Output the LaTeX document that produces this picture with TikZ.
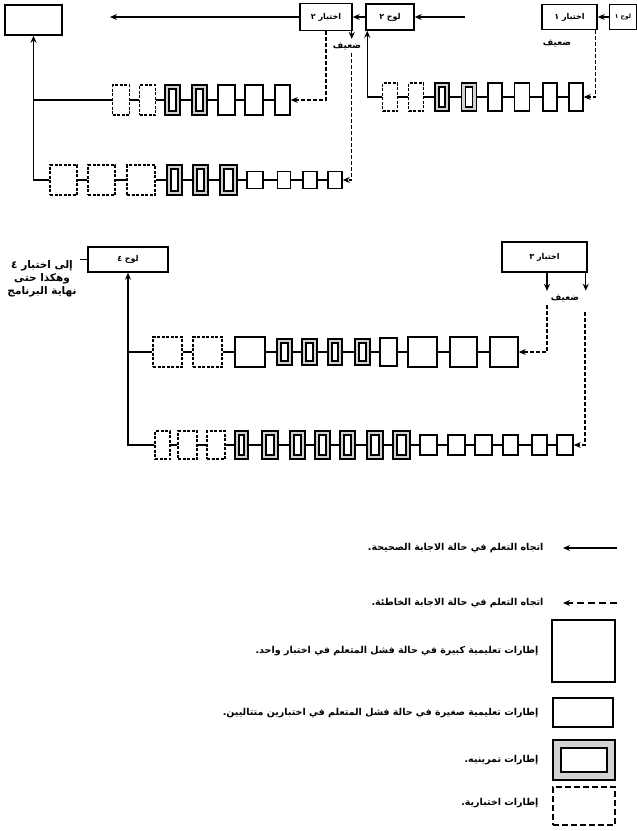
\documentclass[tikz,border=0pt]{standalone}
\usepackage{fontspec}
\newfontfamily\arabicfont[Script=Arabic]{DejaVu Sans}
\TeXXeTstate=1
\usetikzlibrary{arrows.meta}
\newcommand\artxt[1]{{\arabicfont\beginR #1\endR}}

\begin{document}
\begin{tikzpicture}[x=1pt,y=-1pt,>={Stealth[length=7pt,width=6pt]},
  frame/.style={draw,line width=1.5pt,inner sep=0pt},
  bigbox/.style={frame},
  smallbox/.style={frame},
  testbox/.style={frame,dash pattern=on 3pt off 1.5pt},
  drillbox/.style={frame,fill=gray!35,path picture={
      \draw[line width=1.1pt,fill=white]
        ([shift={(#1,#1)}]path picture bounding box.south west) rectangle
        ([shift={(-#1,-#1)}]path picture bounding box.north east);}},
  drillbox/.default=4pt,
  tag/.style={frame,font=\arabicfont\bfseries\fontsize{8}{10}\selectfont},
  word/.style={font=\arabicfont\bfseries\fontsize{9}{11}\selectfont},
  note/.style={font=\arabicfont\bfseries\fontsize{9.5}{12}\selectfont},
  link/.style={line width=1.3pt},
  pass/.style={link,->},
  fail/.style={link,->,dash pattern=on 4pt off 2pt}]
\useasboundingbox (0,0) rectangle (637,831);

% first part
\node[bigbox,minimum width=57pt,minimum height=30pt] (goal) at (33.5,20) {};
\node[tag,minimum width=27pt,minimum height=25pt,font=\arabicfont\bfseries\fontsize{6}{7}\selectfont] (lawh1) at (623,17) {\artxt{لوح ١}};
\node[tag,minimum width=55pt,minimum height=25pt] (ikh1) at (569.5,17) {\artxt{اختبار ١}};
\node[word] (weak1) at (557,43) {\artxt{ضعيف}};
\node[tag,minimum width=48pt,minimum height=26pt] (lawh2) at (390,17) {\artxt{لوح ٢}};
\node[tag,minimum width=52pt,minimum height=27pt] (ikh2) at (326,17) {\artxt{اختبار ٢}};
\node[word] (weak2) at (347,46) {\artxt{ضعيف}};
\coordinate (in2) at (465,17);
\coordinate (out2) at (110,17);
\coordinate (d2) at ([xshift=-1pt]ikh2.south east);

\foreach \x/\w/\s [count=\i] in {390/15/testbox,416/15/testbox,442/14/drillbox,469/15/drillbox,
    495/14/bigbox,522/15/bigbox,550/14/bigbox,576/14/bigbox}
  \node[\s,minimum width=\w pt,minimum height=28pt] (r1-\i) at (\x,97) {};
\foreach \i [remember=\i as \j (initially 1)] in {2,...,8} \draw[link] (r1-\j) -- (r1-\i);

\foreach \x/\w/\s [count=\i] in {121/17/testbox,147.5/16/testbox,172.5/15/drillbox,199.5/15/drillbox,
    226.5/17/bigbox,254/18/bigbox,282.5/15/bigbox}
  \node[\s,minimum width=\w pt,minimum height=30pt] (r2-\i) at (\x,100) {};
\foreach \i [remember=\i as \j (initially 1)] in {2,...,7} \draw[link] (r2-\j) -- (r2-\i);

\foreach \x/\w/\h/\s [count=\i] in {63.5/27/30/testbox,101.5/27/30/testbox,141/28/30/testbox,
    174.5/15/30/drillbox,200.5/15/30/drillbox,228.5/17/30/drillbox,
    255/16/17/smallbox,284/13/17/smallbox,310/14/17/smallbox,335/14/17/smallbox}
  \node[\s,minimum width=\w pt,minimum height=\h pt] (r3-\i) at (\x,180) {};
\foreach \i [remember=\i as \j (initially 1)] in {2,...,10} \draw[link] (r3-\j) -- (r3-\i);

\draw[pass] (lawh1) -- (ikh1);
\draw[fail] ([xshift=-2pt]ikh1.south east) |- (r1-8);
\draw[pass] (r1-1) -| ([xshift=2pt]lawh2.south west);
\draw[pass] (in2) -- (lawh2);
\draw[pass] (lawh2) -- (ikh2);
\draw[pass] (ikh2) -- (out2);
\draw[fail] (ikh2.south) |- (r2-7);
\draw[pass] (d2) -- (d2 |- weak2.north);
\draw[fail] (d2 |- weak2.south) |- (r3-10);
\draw[link] (r2-1) -- (r2-1 -| goal.south);
\draw[pass] (r3-1) -| (goal);

% second part
\node[tag,minimum width=80pt,minimum height=25pt] (lawh4) at (128,259.5) {\artxt{لوح ٤}};
\node[note,font=\arabicfont\bfseries\fontsize{10.5}{13}\selectfont,align=center] (next) at (42,279)
  {\artxt{إلى اختبار ٤}\\\artxt{وهكذا حتى}\\\artxt{نهاية البرنامج}};
\node[tag,minimum width=85pt,minimum height=30pt] (ikh3) at (544.5,257) {\artxt{اختبار ٣}};
\node[word] (weak3) at (565,298) {\artxt{ضعيف}};
\coordinate (d3) at ([xshift=2.5pt]ikh3.south);
\coordinate (d5) at (585,312);

\foreach \x/\w/\h/\s [count=\i] in {167.5/29/30/testbox,207.5/29/30/testbox,250/30/30/bigbox,
    284.5/15/26/drillbox,309.5/15/26/drillbox,335/14/26/drillbox,362.5/15/26/drillbox,
    388.5/17/28/bigbox,422.5/29/30/bigbox,463.5/27/30/bigbox,504/28/30/bigbox}
  \node[\s,minimum width=\w pt,minimum height=\h pt] (r4-\i) at (\x,352) {};
\foreach \i [remember=\i as \j (initially 1)] in {2,...,11} \draw[link] (r4-\j) -- (r4-\i);

\foreach \x/\w/\h/\s [count=\i] in {162.5/15/28/testbox,187.5/19/28/testbox,216/18/28/testbox,
    241.5/13/28/drillbox,270/16/28/drillbox,297.5/15/28/drillbox,322.5/15/28/drillbox,
    347.5/15/28/drillbox,375/16/28/drillbox,401.5/17/28/drillbox,
    428.5/17/20/smallbox,456.5/17/20/smallbox,483.5/17/20/smallbox,510.5/15/20/smallbox,
    539.5/15/20/smallbox,565/16/20/smallbox}
  \node[\s,minimum width=\w pt,minimum height=\h pt] (r5-\i) at (\x,445) {};
\foreach \i [remember=\i as \j (initially 1)] in {2,...,16} \draw[link] (r5-\j) -- (r5-\i);

\draw[link] (lawh4.west) -- (lawh4.west -| next.east);
\draw[pass] (d3) -- (d3 |- weak3.north);
\draw[fail] (d3 |- weak3.south) |- (r4-11);
\draw[pass] ([xshift=-2pt]ikh3.south east) -- ++(0,18);
\draw[fail] (d5) |- (r5-16);
\draw[link] (r4-1) -- (r4-1 -| lawh4.south);
\draw[pass] (r5-1) -| (lawh4);

% key
\coordinate (k1a) at (617,548); \coordinate (k1b) at (563,548);
\coordinate (k2a) at (617,603); \coordinate (k2b) at (563,603);
\draw[pass] (k1a) -- (k1b);
\draw[fail,dash pattern=on 7pt off 4pt] (k2a) -- (k2b);
\node[bigbox,minimum width=63pt,minimum height=62pt] (k3) at (583.5,651) {};
\node[smallbox,minimum width=60pt,minimum height=29pt] (k4) at (583,712.5) {};
\node[drillbox=8pt,minimum width=62pt,minimum height=40pt] (k5) at (584,760) {};
\node[testbox,dash pattern=on 6pt off 3pt,minimum width=62pt,minimum height=38pt] (k6) at (584,806) {};
\node[note,anchor=east] (k1t) at (547,548) {\artxt{اتجاه التعلم في حالة الاجابة الصحيحة.}};
\node[note,anchor=east] (k2t) at (547,603) {\artxt{اتجاه التعلم في حالة الاجابة الخاطئة.}};
\node[note,anchor=east] (k3t) at (542,651) {\artxt{إطارات تعليمية كبيرة في حالة فشل المتعلم في اختبار واحد.}};
\node[note,anchor=east] (k4t) at (542,713) {\artxt{إطارات تعليمية صغيرة في حالة فشل المتعلم في اختبارين متتاليين.}};
\node[note,anchor=east] (k5t) at (542,760) {\artxt{إطارات تمرينيه.}};
\node[note,anchor=east] (k6t) at (542,803) {\artxt{إطارات اختبارية.}};
\end{tikzpicture}
\end{document}
